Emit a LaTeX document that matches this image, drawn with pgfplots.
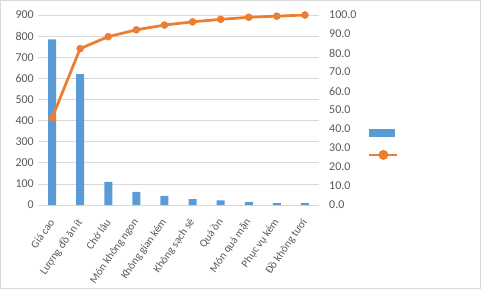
\documentclass[border=0pt]{standalone}
\usepackage{fontspec}
\setmainfont{Carlito}
\usepackage{pgfplots}
\pgfplotsset{compat=1.18}
\definecolor{barblue}{HTML}{5B9BD5}
\definecolor{lineor}{HTML}{ED7D31}
\definecolor{txt}{HTML}{595959}
\definecolor{gridc}{HTML}{D9D9D9}
\begin{document}
\begin{tikzpicture}
\path[use as bounding box] (0,0) rectangle (481pt,289pt);
\draw[gridc, line width=0.75pt] (0.5pt,0.5pt) rectangle (480.5pt,288.5pt);
\begin{axis}[
  at={(38pt,84pt)}, anchor=south west, scale only axis,
  width=281pt, height=190pt,
  xmin=-0.5, xmax=9.5, ymin=0, ymax=900,
  ytick={0,100,...,900},
  xtick={0,...,9},
  xticklabels={Giá cao,Lượng đồ ăn ít,Chờ lâu,Món không ngon,Không gian kém,Không sạch sẽ,Quá ồn,Món quá mặn,Phục vụ kém,Đồ không tươi},
  ymajorgrids, grid style={gridc, line width=0.75pt},
  axis line style={draw=none},
  major tick length=0pt,
  tick label style={font=\fontsize{12}{14}\selectfont, text=txt},
  /pgf/number format/assume math mode=true,
  xticklabel style={rotate=55, anchor=east, inner sep=0pt, font=\fontsize{11}{13}\selectfont},
  xticklabel shift=15pt,
  yticklabel style={inner sep=1pt, xshift=-3pt},
]
\addplot[ybar, bar width=8pt, fill=barblue, draw=none] coordinates {
  (0,785) (1,620) (2,109) (3,62) (4,43) (5,28) (6,22) (7,14) (8,9) (9,9)};
\end{axis}
\begin{axis}[
  at={(38pt,84pt)}, anchor=south west, scale only axis,
  width=281pt, height=190pt,
  xmin=-0.5, xmax=9.5, ymin=0, ymax=100,
  ytick={0,10,...,100},
  axis x line=none,
  axis y line*=right,
  y axis line style={draw=none},
  major tick length=0pt,
  tick label style={font=\fontsize{12}{14}\selectfont, text=txt},
  /pgf/number format/assume math mode=true,
  yticklabel style={/pgf/number format/.cd, fixed, fixed zerofill, precision=1, /tikz/.cd, inner sep=1pt, xshift=9pt},
  legend style={draw=none, fill=none, at={(rel axis cs:1.231,0.32)}, anchor=center,
    nodes={inner sep=0pt}, row sep=14pt, column sep=0pt},
]
\addlegendimage{legend image code/.code={\fill[barblue] (0pt,-3.5pt) rectangle (25pt,3.5pt);}}
\addlegendentry{}
\addplot[lineor, line width=2.75pt, mark=*, mark size=3.5pt, mark options={fill=lineor, solid, line width=0.5pt},
  legend image code/.code={\draw[lineor, line width=2.75pt] (0pt,0pt) -- (28pt,0pt); \fill[lineor] (14pt,0pt) circle (3.5pt);}]
  coordinates {
  (0,45.8) (1,82.3) (2,88.6) (3,92.2) (4,94.7) (5,96.4) (6,97.7) (7,98.8) (8,99.4) (9,100)};
\addlegendentry{}
\end{axis}
\end{tikzpicture}
\end{document}
